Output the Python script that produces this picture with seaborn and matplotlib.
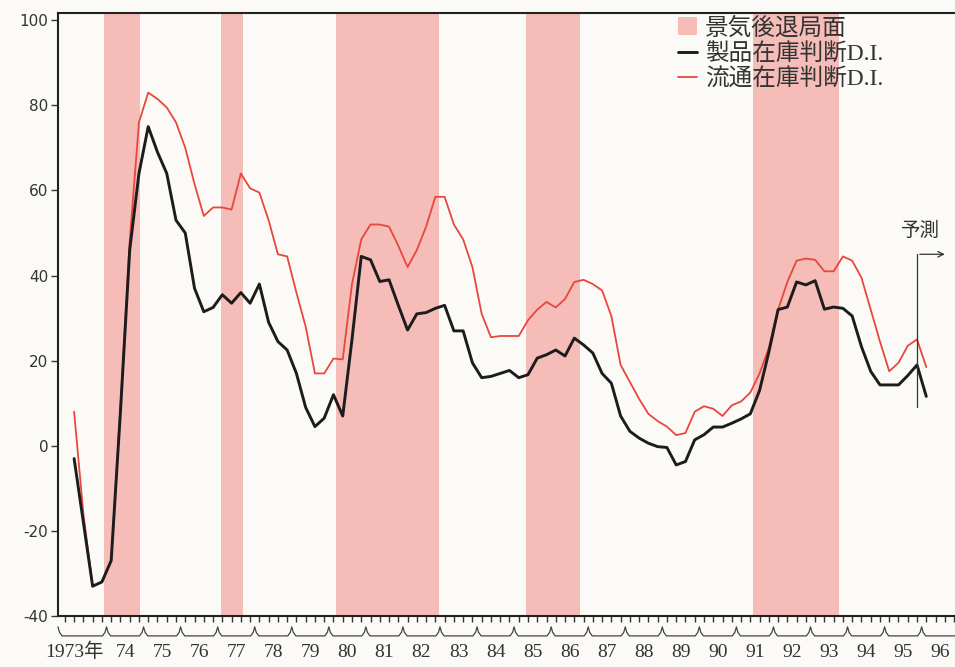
import matplotlib
matplotlib.use("Agg")
import matplotlib.pyplot as plt
import matplotlib.transforms as mtransforms
from matplotlib.patches import Patch
from matplotlib.lines import Line2D
import numpy as np
import pandas as pd
import seaborn as sns

# quarterly data, 1973 Q1 .. 1996 Q1 (last two quarters are forecast)
product_di = [-3, -18, -33, -32, -27, 8, 46, 64, 75, 69, 64, 53, 50, 37, 31.5, 32.5,
              35.5, 33.5, 36, 33.5, 38, 29, 24.5, 22.5, 17, 9, 4.5, 6.5, 12, 7, 25, 44.5,
              43.7, 38.6, 39, 33, 27.2, 31, 31.3, 32.3, 33, 27, 27, 19.5, 16, 16.3,
              17, 17.7, 16, 16.7, 20.6, 21.4, 22.5, 21.1, 25.3, 23.7, 21.8, 17, 14.7, 7,
              3.4, 1.8, 0.6, -0.2, -0.4, -4.5, -3.7, 1.4, 2.6, 4.4, 4.4, 5.3, 6.3, 7.5,
              13, 22, 32, 32.6, 38.5, 37.8, 38.8, 32.1, 32.6, 32.3, 30.5, 23.3, 17.5,
              14.3, 14.3, 14.3, 16.5, 19, 11.6]
distrib_di = [8, -16, -33, -32, -27, 9, 48, 76, 83, 81.5, 79.5, 76, 70, 61.5, 54, 56,
              56, 55.5, 64, 60.5, 59.5, 53, 45, 44.5, 36, 28, 17, 17, 20.5, 20.3, 38, 48.5,
              52, 52, 51.5, 47, 42, 46, 51.5, 58.5, 58.5, 52, 48.5, 42, 31, 25.5,
              25.8, 25.8, 25.8, 29.5, 32, 33.8, 32.5, 34.5, 38.5, 39, 38, 36.5, 30.5, 19,
              15, 11, 7.5, 5.8, 4.5, 2.5, 3, 8, 9.3, 8.7, 7, 9.5, 10.4, 12.5,
              17, 23, 32, 38.5, 43.5, 44, 43.7, 41, 41, 44.5, 43.5, 39.5, 32, 24.5,
              17.5, 19.5, 23.5, 25, 18.5]
recessions = [(1973.92, 1974.89), (1977.08, 1977.67), (1980.2, 1982.96),
              (1985.33, 1986.79), (1991.46, 1993.78)]
year_labels = ["1973年"] + [str(y % 100) for y in range(1974, 1997)]
forecast_at = 1995.875

t = 1973 + (np.arange(len(product_di)) + 0.5) / 4
df = pd.DataFrame({"t": t, "product": product_di, "distrib": distrib_di})

shade = "#f5bcb8"
red = "#e8473e"
black = "#1c1c1c"
txt = "#333333"
bg = "#fbfaf6"

sns.set_style("ticks")
plt.rcParams["font.family"] = ["DejaVu Sans"]
plt.rcParams["axes.unicode_minus"] = False
cjk = ["Liberation Serif", "Noto Sans CJK JP"]

fig = plt.figure(figsize=(9.55, 6.67), dpi=100)
fig.patch.set_facecolor(bg)
ax = fig.add_axes([58 / 955, 51 / 667, 1 - 58 / 955, 603 / 667])
ax.set_facecolor(bg)

for a, b in recessions:
    ax.axvspan(a, b, color=shade, lw=0, zorder=0)

sns.lineplot(data=df, x="t", y="distrib", color=red, lw=1.3, ax=ax, zorder=3)
sns.lineplot(data=df, x="t", y="product", color=black, lw=2.1, ax=ax, zorder=4)

x_left = 1972.69
x_right = 1996.9
ax.set_xlim(x_left, x_right)
ax.set_ylim(-40, 101.7)
ax.set_xlabel("")
ax.set_ylabel("")

ax.set_yticks(range(-40, 101, 20))
ax.tick_params(axis="y", length=5, width=1, color=txt, labelsize=11, labelcolor=txt, pad=2)
ax.set_xticks(np.arange(1972.875, 1996.9, 0.25))
ax.set_xticklabels([])
ax.tick_params(axis="x", length=4, width=1, color=txt, direction="out")

for side in ["left", "bottom", "top"]:
    ax.spines[side].set_linewidth(1.5)
    ax.spines[side].set_color("#222222")
ax.spines["right"].set_visible(False)

# braces under each year
trans = mtransforms.blended_transform_factory(ax.transData, ax.transAxes)
bounds = [x_left] + list(range(1974, 1997)) + [x_right]
bx, by = [], []
for a, b in zip(bounds[:-1], bounds[1:]):
    xs = [a, a + 0.04, a + 0.11, b - 0.11, b - 0.04, b]
    ys = [-0.018, -0.027, -0.033, -0.033, -0.027, -0.018]
    if b == x_right:
        xs, ys = xs[:4], ys[:4]
        xs[-1] = b
    bx += xs
    by += ys
ax.plot(bx, by, transform=trans, clip_on=False, color="#444444", lw=0.9)

for i, lab in enumerate(year_labels):
    y = 1973 + i
    if i == 0:
        ax.text(1973.92, -0.06, lab, transform=trans, ha="right", va="center",
                fontsize=14, color=txt, family=cjk)
    else:
        ax.text(y + 0.5, -0.06, lab, transform=trans, ha="center", va="center",
                fontsize=14, color=txt, family=cjk)

# forecast marker
ax.plot([forecast_at, forecast_at], [9, 45], color="#333333", lw=0.9, zorder=5)
ax.annotate("", xy=(1996.7, 45), xytext=(forecast_at, 45),
            arrowprops=dict(arrowstyle="->", lw=0.9, color="#333333"))
ax.text(1995.97, 50.5, "予測", ha="center", va="center", fontsize=14, color=txt,
        family=["Noto Sans CJK JP"])

handles = [Patch(facecolor=shade, edgecolor="none"),
           Line2D([], [], color=black, lw=2.1),
           Line2D([], [], color=red, lw=1.3)]
labels = ["景気後退局面", "製品在庫判断D.I.", "流通在庫判断D.I."]
leg = ax.legend(handles, labels, loc="upper left", bbox_to_anchor=(678 / 955, 1 - 17 / 667),
                bbox_transform=fig.transFigure, frameon=False,
                prop={"family": cjk, "size": 17}, handlelength=0.8, handleheight=0.8,
                handletextpad=0.35, labelspacing=0.15, borderpad=0, borderaxespad=0,
                labelcolor=txt)

fig.savefig("out.png", dpi=100, facecolor=bg)
